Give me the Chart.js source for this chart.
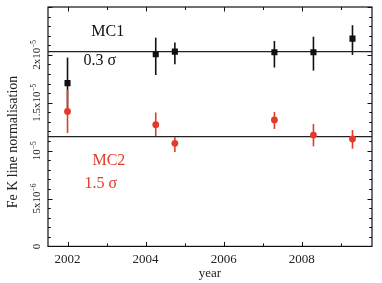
<!DOCTYPE html>
<html><head><meta charset="utf-8">
<script src="https://cdn.jsdelivr.net/npm/chart.js@4/dist/chart.umd.min.js"></script>
<style>html,body{margin:0;padding:0;background:#fff}#wrap{width:382px;height:283px}</style>
</head><body><div id="wrap"><canvas id="c" width="382" height="283"></canvas></div>
<script>
// ---- data ----
const mc1Years = [2002.0, 2004.26, 2004.75, 2007.30, 2008.30, 2009.30];
const mc1Values = [1.705e-5, 2.007e-5, 2.034e-5, 2.028e-5, 2.028e-5, 2.170e-5];
const mc1High = [1.972e-5, 2.180e-5, 2.128e-5, 2.146e-5, 2.190e-5, 2.310e-5];
const mc1Low = [1.440e-5, 1.790e-5, 1.903e-5, 1.868e-5, 1.836e-5, 2.000e-5];

const mc2Years = [2002.0, 2004.26, 2004.75, 2007.30, 2008.30, 2009.30];
const mc2Values = [1.410e-5, 1.271e-5, 1.076e-5, 1.320e-5, 1.163e-5, 1.122e-5];
const mc2High = [1.635e-5, 1.399e-5, 1.139e-5, 1.403e-5, 1.278e-5, 1.215e-5];
const mc2Low = [1.184e-5, 1.149e-5, 0.986e-5, 1.226e-5, 1.045e-5, 1.020e-5];

const fitLevels = [2.034e-5, 1.146e-5];           // MC1 mean, MC2 mean
const xRange = [2001.5, 2009.8];
const yRange = [0, 2.5e-5];
const yTickLabels = [
  {v: 0, base: '0', sup: ''},
  {v: 5e-6, base: '5x10', sup: '\u22126'},
  {v: 1e-5, base: '10', sup: '\u22125'},
  {v: 1.5e-5, base: '1.5x10', sup: '\u22125'},
  {v: 2e-5, base: '2x10', sup: '\u22125'}
];
const annotations = [
  {text: 'MC1', x: 2003.03, y: 2.24e-5, color: '#111'},
  {text: '0.3 \u03c3', x: 2002.83, y: 1.94e-5, color: '#111'},
  {text: 'MC2', x: 2003.06, y: 0.896e-5, color: '#e23b2a'},
  {text: '1.5 \u03c3', x: 2002.85, y: 0.656e-5, color: '#e23b2a'}
];

const RED = '#e23b2a';
const SERIF = '"Liberation Serif", "Times New Roman", serif';

const pts = (xs, ys) => xs.map((x, i) => ({x: x, y: ys[i]}));

const framePlugin = {
  id: 'frame',
  beforeDatasetsDraw(chart) {
    const ctx = chart.ctx, xs = chart.scales.x, ys = chart.scales.y;
    const bars = [[mc1Years, mc1Low, mc1High, '#111'], [mc2Years, mc2Low, mc2High, RED]];
    ctx.save();
    ctx.lineWidth = 1.6;
    bars.forEach(([yrs, lo, hi, col]) => {
      ctx.strokeStyle = col;
      yrs.forEach((yr, i) => {
        const px = xs.getPixelForValue(yr);
        ctx.beginPath();
        ctx.moveTo(px, ys.getPixelForValue(lo[i]));
        ctx.lineTo(px, ys.getPixelForValue(hi[i]));
        ctx.stroke();
      });
    });
    ctx.restore();
  },
  afterDraw(chart) {
    const ctx = chart.ctx, a = chart.chartArea, xs = chart.scales.x, ys = chart.scales.y;
    ctx.save();
    // frame
    ctx.strokeStyle = '#111';
    ctx.lineWidth = 1.2;
    ctx.strokeRect(a.left, a.top, a.right - a.left, a.bottom - a.top);
    // inward ticks
    ctx.lineWidth = 1;
    xs.ticks.forEach(t => {
      const v = t.value;
      if (Math.abs(v - Math.round(v)) > 1e-6) return;
      const len = (Math.round(v) % 2 === 0) ? 4.5 : 3;
      const px = Math.round(xs.getPixelForValue(v)) + 0.5;
      ctx.beginPath();
      ctx.moveTo(px, a.bottom); ctx.lineTo(px, a.bottom - len);
      ctx.moveTo(px, a.top); ctx.lineTo(px, a.top + len);
      ctx.stroke();
    });
    ys.ticks.forEach(t => {
      const v = t.value;
      const r = v / 5e-6;
      const major = Math.abs(r - Math.round(r)) < 1e-3;
      const len = major ? 4.5 : 2.8;
      const py = Math.round(ys.getPixelForValue(v)) + 0.5;
      ctx.beginPath();
      ctx.moveTo(a.left, py); ctx.lineTo(a.left + len, py);
      ctx.moveTo(a.right, py); ctx.lineTo(a.right - len, py);
      ctx.stroke();
    });
    // rotated y tick labels
    ctx.fillStyle = '#222';
    yTickLabels.forEach(l => {
      const py = ys.getPixelForValue(l.v);
      ctx.save();
      ctx.translate(40, py);
      ctx.rotate(-Math.PI / 2);
      ctx.font = '11px ' + SERIF;
      const wb = ctx.measureText(l.base).width;
      ctx.font = '7.5px ' + SERIF;
      const ws = l.sup ? ctx.measureText(l.sup).width : 0;
      const start = -(wb + ws) / 2;
      ctx.textBaseline = 'alphabetic';
      ctx.textAlign = 'left';
      ctx.font = '11px ' + SERIF;
      ctx.fillText(l.base, start, 0);
      if (l.sup) {
        ctx.font = '7.5px ' + SERIF;
        ctx.fillText(l.sup, start + wb, -4.5);
      }
      ctx.restore();
    });
    // y axis title
    ctx.save();
    ctx.translate(17, 142);
    ctx.rotate(-Math.PI / 2);
    ctx.font = '14px ' + SERIF;
    ctx.textAlign = 'center';
    ctx.textBaseline = 'alphabetic';
    ctx.fillStyle = '#222';
    ctx.fillText('Fe K line normalisation', 0, 0);
    ctx.restore();
    // x axis title
    ctx.font = '13px ' + SERIF;
    ctx.textAlign = 'center';
    ctx.textBaseline = 'middle';
    ctx.fillStyle = '#222';
    ctx.fillText('year', (a.left + a.right) / 2, 274);
    // annotations
    ctx.font = '16px ' + SERIF;
    ctx.textAlign = 'center';
    ctx.textBaseline = 'middle';
    annotations.forEach(an => {
      ctx.fillStyle = an.color;
      ctx.fillText(an.text, xs.getPixelForValue(an.x), ys.getPixelForValue(an.y));
    });
    ctx.restore();
  }
};

new Chart(document.getElementById('c'), {
  type: 'scatter',
  data: {
    datasets: [
      {label: 'MC1 level', type: 'line', data: pts(xRange, [fitLevels[0], fitLevels[0]]),
       borderColor: '#222', borderWidth: 1.3, pointRadius: 0, order: 3},
      {label: 'MC2 level', type: 'line', data: pts(xRange, [fitLevels[1], fitLevels[1]]),
       borderColor: '#222', borderWidth: 1.3, pointRadius: 0, order: 3},
      {label: 'MC1', data: pts(mc1Years, mc1Values), pointStyle: 'rect', pointRadius: 4.3,
       backgroundColor: '#111', borderColor: '#111', borderWidth: 0, order: 2},
      {label: 'MC2', data: pts(mc2Years, mc2Values), pointStyle: 'circle', pointRadius: 3.4,
       backgroundColor: RED, borderColor: RED, borderWidth: 0, order: 1}
    ]
  },
  options: {
    responsive: false,
    animation: false,
    events: [],
    layout: {padding: {left: 48, right: 10, top: 7, bottom: 11}},
    plugins: {legend: {display: false}, tooltip: {enabled: false}},
    scales: {
      x: {
        type: 'linear', min: xRange[0], max: xRange[1],
        grid: {display: false, drawTicks: false},
        border: {display: false},
        ticks: {
          stepSize: 1, autoSkip: false, maxRotation: 0, padding: 5, includeBounds: false,
          color: '#222', font: {family: SERIF, size: 13},
          callback: v => (Math.abs(v - Math.round(v)) < 1e-6 && Math.round(v) % 2 === 0) ? String(Math.round(v)) : ''
        },
        title: {display: false}
      },
      y: {
        type: 'linear', min: yRange[0], max: yRange[1],
        grid: {display: false, drawTicks: false},
        border: {display: false},
        ticks: {display: false, stepSize: 1e-6}
      }
    }
  },
  plugins: [framePlugin]
});
</script>
</body></html>
